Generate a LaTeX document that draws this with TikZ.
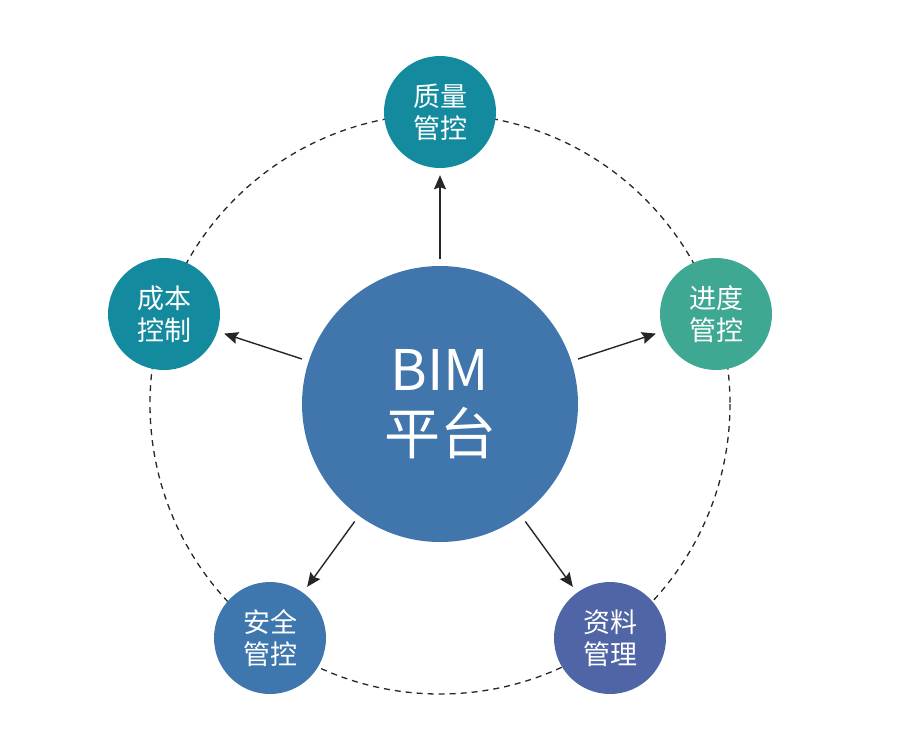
\documentclass[tikz,border=0pt]{standalone}
\usepackage{fontspec}
\setmainfont{Noto Sans CJK SC}
\usetikzlibrary{arrows.meta}
\definecolor{cteal}{HTML}{138A9E}
\definecolor{cgreen}{HTML}{3FA893}
\definecolor{cpurple}{HTML}{4F65A5}
\definecolor{cblue}{HTML}{3E76AE}
\definecolor{ccenter}{HTML}{4176AD}
\begin{document}
\begin{tikzpicture}[x=1pt,y=-1pt,
  sat/.style={circle,minimum size=112pt,inner sep=0pt,text=white,font=\fontsize{27}{32}\selectfont,align=center},
  hub/.style={circle,minimum size=276pt,inner sep=0pt,fill=ccenter,text=white,font=\fontsize{56}{68}\selectfont,align=center},
  link/.style={-{Stealth[length=14pt,width=12pt,inset=2pt]},line width=1.4pt,draw=black!85,shorten >=7pt,shorten <=7pt},
  ring/.style={draw=black!85,line width=1.3pt,dash pattern=on 6pt off 5pt}]
\useasboundingbox (0,0) rectangle (900,740);
\draw[ring] (440,404) circle (290);
\node[hub] (c) at (440,404) {BIM\\[-4pt]平台};
\node[sat,fill=cteal] (q) at (440,112) {质量\\管控};
\node[sat,fill=cgreen] (j) at (716,314) {进度\\管控};
\node[sat,fill=cpurple] (z) at (610,638) {资料\\管理};
\node[sat,fill=cblue] (a) at (270,638) {安全\\管控};
\node[sat,fill=cteal] (b) at (164,314) {成本\\控制};
\foreach \t in {q,j,z,a,b} \draw[link] (c) -- (\t);
\end{tikzpicture}
\end{document}
